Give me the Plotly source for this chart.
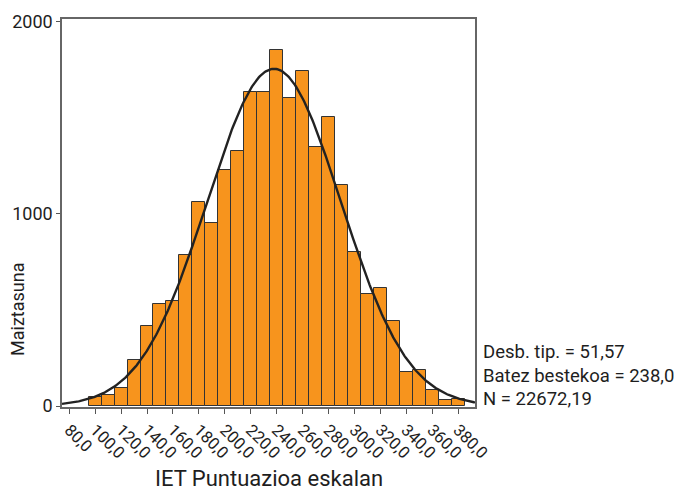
import numpy as np
import plotly.graph_objects as go

bin_centers = [100, 110, 120, 130, 140, 150, 160, 170, 180, 190, 200, 210, 220, 230, 240,
               250, 260, 270, 280, 290, 300, 310, 320, 330, 340, 350, 360, 370, 380]
counts = [49, 56, 95, 240, 414, 529, 548, 787, 1063, 950, 1230, 1324, 1633, 1633, 1852,
          1602, 1742, 1345, 1504, 1150, 801, 582, 612, 444, 178, 187, 84, 34, 37]
bin_width = 10
mean_val = 238.0
sd_val = 51.57
n_val = 22672.19
tick_vals = list(range(80, 400, 20))
tick_text = [f"{v},0" for v in tick_vals]
stats_lines = ["Desb. tip. = 51,57", "Batez bestekoa = 238,0", "N = 22672,19"]

FONT = "Roboto"

xs = np.linspace(74.4, 393.1, 400)
ys = n_val * bin_width / (sd_val * np.sqrt(2 * np.pi)) * np.exp(-0.5 * ((xs - mean_val) / sd_val) ** 2)

fig = go.Figure()
fig.add_trace(go.Bar(x=bin_centers, y=counts, width=bin_width,
                     marker=dict(color="#F7941D", line=dict(color="#333333", width=1)),
                     showlegend=False))
fig.add_trace(go.Scatter(x=xs, y=ys, mode="lines", line=dict(color="#222222", width=2.4),
                         showlegend=False))

fig.update_layout(
    width=685, height=493,
    margin=dict(l=62, r=210, t=19, b=86, autoexpand=False),
    paper_bgcolor="white", plot_bgcolor="white",
    font=dict(family=FONT, size=15, color="#1e1e1e"),
    bargap=0,
    xaxis=dict(range=[74.4, 393.1], tickvals=tick_vals, ticktext=tick_text, tickangle=45,
               ticks="outside", ticklen=5, tickcolor="#555555", automargin=False,
               showline=True, linecolor="#666666", linewidth=1.5, mirror=True,
               showgrid=False, zeroline=False, tickfont=dict(size=16.5)),
    yaxis=dict(range=[-5, 2013], tickvals=[0, 1000, 2000], ticks="outside", ticklen=4,
               tickcolor="#555555", automargin=False,
               showline=True, linecolor="#666666", linewidth=1.5, mirror=True,
               showgrid=False, zeroline=False, tickfont=dict(size=18)),
)

fig.add_annotation(text="IET Puntuazioa eskalan", xref="paper", yref="paper",
                   x=(269 - 62) / (475 - 62), y=-(478 - 407) / (407 - 19),
                   showarrow=False, font=dict(size=22), xanchor="center", yanchor="middle")
fig.add_annotation(text="Maiztasuna", xref="paper", yref="paper", textangle=-90,
                   x=-(62 - 17) / (475 - 62), y=(407 - 310) / (407 - 19),
                   showarrow=False, font=dict(size=18), xanchor="center", yanchor="middle")
for i, line in enumerate(stats_lines):
    fig.add_annotation(text=line, xref="paper", yref="paper",
                       x=(481 - 62) / (475 - 62), y=(407 - (352 + 23.5 * i)) / (407 - 19),
                       showarrow=False, font=dict(size=18.5), xanchor="left", yanchor="middle")

fig.write_html("out.html", config={"displayModeBar": False},
               post_script="document.body.style.margin='0';")
